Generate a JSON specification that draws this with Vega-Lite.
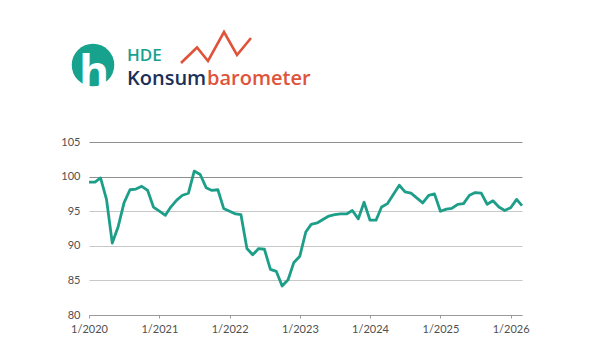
{
  "$schema": "https://vega.github.io/schema/vega-lite/v6.json",
  "width": 433,
  "height": 173,
  "autosize": {"type": "none"},
  "padding": {"left": 89, "top": 142, "right": 78, "bottom": 25},
  "background": "white",
  "config": {"view": {"stroke": null}},
  "datasets": {
    "kb": [
      {"month": "2020-01-01", "index": 99.2}, {"month": "2020-02-01", "index": 99.2}, {"month": "2020-03-01", "index": 99.8},
      {"month": "2020-04-01", "index": 96.7}, {"month": "2020-05-01", "index": 90.4}, {"month": "2020-06-01", "index": 92.8},
      {"month": "2020-07-01", "index": 96.2}, {"month": "2020-08-01", "index": 98.1}, {"month": "2020-09-01", "index": 98.2},
      {"month": "2020-10-01", "index": 98.6}, {"month": "2020-11-01", "index": 98.0}, {"month": "2020-12-01", "index": 95.6},
      {"month": "2021-01-01", "index": 95.0}, {"month": "2021-02-01", "index": 94.4}, {"month": "2021-03-01", "index": 95.6},
      {"month": "2021-04-01", "index": 96.6}, {"month": "2021-05-01", "index": 97.3}, {"month": "2021-06-01", "index": 97.6},
      {"month": "2021-07-01", "index": 100.8}, {"month": "2021-08-01", "index": 100.3}, {"month": "2021-09-01", "index": 98.4},
      {"month": "2021-10-01", "index": 98.0}, {"month": "2021-11-01", "index": 98.1}, {"month": "2021-12-01", "index": 95.4},
      {"month": "2022-01-01", "index": 95.0}, {"month": "2022-02-01", "index": 94.6}, {"month": "2022-03-01", "index": 94.5},
      {"month": "2022-04-01", "index": 89.6}, {"month": "2022-05-01", "index": 88.7}, {"month": "2022-06-01", "index": 89.6},
      {"month": "2022-07-01", "index": 89.5}, {"month": "2022-08-01", "index": 86.6}, {"month": "2022-09-01", "index": 86.3},
      {"month": "2022-10-01", "index": 84.2}, {"month": "2022-11-01", "index": 85.1}, {"month": "2022-12-01", "index": 87.6},
      {"month": "2023-01-01", "index": 88.5}, {"month": "2023-02-01", "index": 92.0}, {"month": "2023-03-01", "index": 93.1},
      {"month": "2023-04-01", "index": 93.3}, {"month": "2023-05-01", "index": 93.8}, {"month": "2023-06-01", "index": 94.3},
      {"month": "2023-07-01", "index": 94.5}, {"month": "2023-08-01", "index": 94.6}, {"month": "2023-09-01", "index": 94.6},
      {"month": "2023-10-01", "index": 95.1}, {"month": "2023-11-01", "index": 93.9}, {"month": "2023-12-01", "index": 96.3},
      {"month": "2024-01-01", "index": 93.7}, {"month": "2024-02-01", "index": 93.7}, {"month": "2024-03-01", "index": 95.6},
      {"month": "2024-04-01", "index": 96.1}, {"month": "2024-05-01", "index": 97.4}, {"month": "2024-06-01", "index": 98.75},
      {"month": "2024-07-01", "index": 97.8}, {"month": "2024-08-01", "index": 97.6}, {"month": "2024-09-01", "index": 96.9},
      {"month": "2024-10-01", "index": 96.2}, {"month": "2024-11-01", "index": 97.3}, {"month": "2024-12-01", "index": 97.5},
      {"month": "2025-01-01", "index": 95.0}, {"month": "2025-02-01", "index": 95.3}, {"month": "2025-03-01", "index": 95.4},
      {"month": "2025-04-01", "index": 96.0}, {"month": "2025-05-01", "index": 96.1}, {"month": "2025-06-01", "index": 97.3},
      {"month": "2025-07-01", "index": 97.7}, {"month": "2025-08-01", "index": 97.6}, {"month": "2025-09-01", "index": 96.0},
      {"month": "2025-10-01", "index": 96.5}, {"month": "2025-11-01", "index": 95.6}, {"month": "2025-12-01", "index": 95.1},
      {"month": "2026-01-01", "index": 95.5}, {"month": "2026-02-01", "index": 96.7}, {"month": "2026-03-01", "index": 95.8}
    ],
    "logoMark": [{"lx": 4, "ly": -77}],
    "logoText": [
      {"label": "h", "lx": 5, "ly": -53},
      {"label": "HDE", "lx": 38, "ly": -81},
      {"label": "Konsum", "lx": 38, "ly": -57},
      {"label": "barometer", "lx": 118, "ly": -57}
    ],
    "zigzag": [
      {"step": 1, "lx": 92, "ly": -79},
      {"step": 2, "lx": 108, "ly": -94.5},
      {"step": 3, "lx": 119, "ly": -81},
      {"step": 4, "lx": 135, "ly": -110},
      {"step": 5, "lx": 148, "ly": -87},
      {"step": 6, "lx": 162, "ly": -104}
    ]
  },
  "resolve": {"scale": {"x": "independent", "y": "independent"}, "axis": {"x": "independent", "y": "independent"}},
  "layer": [
    {
      "data": {"name": "kb"},
      "mark": {"type": "line", "color": "#1d9e89", "strokeWidth": 2.8, "strokeJoin": "round"},
      "encoding": {
        "x": {
          "field": "month", "type": "temporal",
          "scale": {"type": "utc", "domain": [{"year": 2020, "month": 1, "date": 1, "utc": true}, {"year": 2026, "month": 3, "date": 1, "utc": true}], "nice": false},
          "axis": {
            "title": null, "grid": false, "format": "%-m/%Y",
            "values": [
              {"year": 2020, "month": 1, "date": 1, "utc": true},
              {"year": 2021, "month": 1, "date": 1, "utc": true},
              {"year": 2022, "month": 1, "date": 1, "utc": true},
              {"year": 2023, "month": 1, "date": 1, "utc": true},
              {"year": 2024, "month": 1, "date": 1, "utc": true},
              {"year": 2025, "month": 1, "date": 1, "utc": true},
              {"year": 2026, "month": 1, "date": 1, "utc": true}
            ],
            "domainColor": "#9a9a9a", "domainWidth": 1.2, "tickColor": "#9a9a9a", "tickSize": 3,
            "labelPadding": 5, "labelFont": "Lato", "labelFontSize": 11, "labelColor": "#505050", "labelFlush": false
          }
        },
        "y": {
          "field": "index", "type": "quantitative",
          "scale": {"domain": [80, 105], "nice": false, "zero": false},
          "axis": {
            "title": null, "values": [80, 85, 90, 95, 100, 105], "grid": true,
            "gridColor": {"condition": {"test": "datum.value >= 100", "value": "#8f8f8f"}, "value": "#c8c8c8"},
            "gridWidth": 1.2, "domain": false, "ticks": false, "labelPadding": 9,
            "labelFont": "Lato", "labelFontSize": 11, "labelColor": "#505050"
          }
        }
      }
    },
    {
      "data": {"name": "logoMark"},
      "mark": {"type": "point", "filled": true, "shape": "circle", "size": 1810, "color": "#16a28d", "opacity": 1},
      "encoding": {
        "x": {"field": "lx", "type": "quantitative", "scale": {"domain": [0, 433], "nice": false, "zero": false}, "axis": null},
        "y": {"field": "ly", "type": "quantitative", "scale": {"domain": [0, 173], "nice": false, "zero": false, "reverse": true}, "axis": null}
      }
    },
    {
      "data": {"name": "logoText"},
      "transform": [{"filter": "datum.label === 'h'"}],
      "mark": {"type": "text", "font": "Open Sans", "fontWeight": "bold", "fontSize": 46, "color": "white", "align": "center", "baseline": "alphabetic"},
      "encoding": {
        "text": {"field": "label"},
        "x": {"field": "lx", "type": "quantitative", "scale": {"domain": [0, 433], "nice": false, "zero": false}, "axis": null},
        "y": {"field": "ly", "type": "quantitative", "scale": {"domain": [0, 173], "nice": false, "zero": false, "reverse": true}, "axis": null}
      }
    },
    {
      "data": {"name": "logoText"},
      "transform": [{"filter": "datum.label === 'HDE'"}],
      "mark": {"type": "text", "font": "Open Sans", "fontWeight": 600, "fontSize": 17, "color": "#17a18f", "align": "left", "baseline": "alphabetic"},
      "encoding": {
        "text": {"field": "label"},
        "x": {"field": "lx", "type": "quantitative", "scale": {"domain": [0, 433], "nice": false, "zero": false}, "axis": null},
        "y": {"field": "ly", "type": "quantitative", "scale": {"domain": [0, 173], "nice": false, "zero": false, "reverse": true}, "axis": null}
      }
    },
    {
      "data": {"name": "logoText"},
      "transform": [{"filter": "datum.label === 'Konsum'"}],
      "mark": {"type": "text", "font": "Open Sans", "fontWeight": 600, "fontSize": 20, "color": "#1b2f58", "align": "left", "baseline": "alphabetic"},
      "encoding": {
        "text": {"field": "label"},
        "x": {"field": "lx", "type": "quantitative", "scale": {"domain": [0, 433], "nice": false, "zero": false}, "axis": null},
        "y": {"field": "ly", "type": "quantitative", "scale": {"domain": [0, 173], "nice": false, "zero": false, "reverse": true}, "axis": null}
      }
    },
    {
      "data": {"name": "logoText"},
      "transform": [{"filter": "datum.label === 'barometer'"}],
      "mark": {"type": "text", "font": "Open Sans", "fontWeight": 600, "fontSize": 20, "color": "#e0533b", "align": "left", "baseline": "alphabetic"},
      "encoding": {
        "text": {"field": "label"},
        "x": {"field": "lx", "type": "quantitative", "scale": {"domain": [0, 433], "nice": false, "zero": false}, "axis": null},
        "y": {"field": "ly", "type": "quantitative", "scale": {"domain": [0, 173], "nice": false, "zero": false, "reverse": true}, "axis": null}
      }
    },
    {
      "data": {"name": "zigzag"},
      "mark": {"type": "line", "color": "#e0533b", "strokeWidth": 2.6, "strokeJoin": "miter"},
      "encoding": {
        "order": {"field": "step", "type": "quantitative"},
        "x": {"field": "lx", "type": "quantitative", "scale": {"domain": [0, 433], "nice": false, "zero": false}, "axis": null},
        "y": {"field": "ly", "type": "quantitative", "scale": {"domain": [0, 173], "nice": false, "zero": false, "reverse": true}, "axis": null}
      }
    }
  ]
}
